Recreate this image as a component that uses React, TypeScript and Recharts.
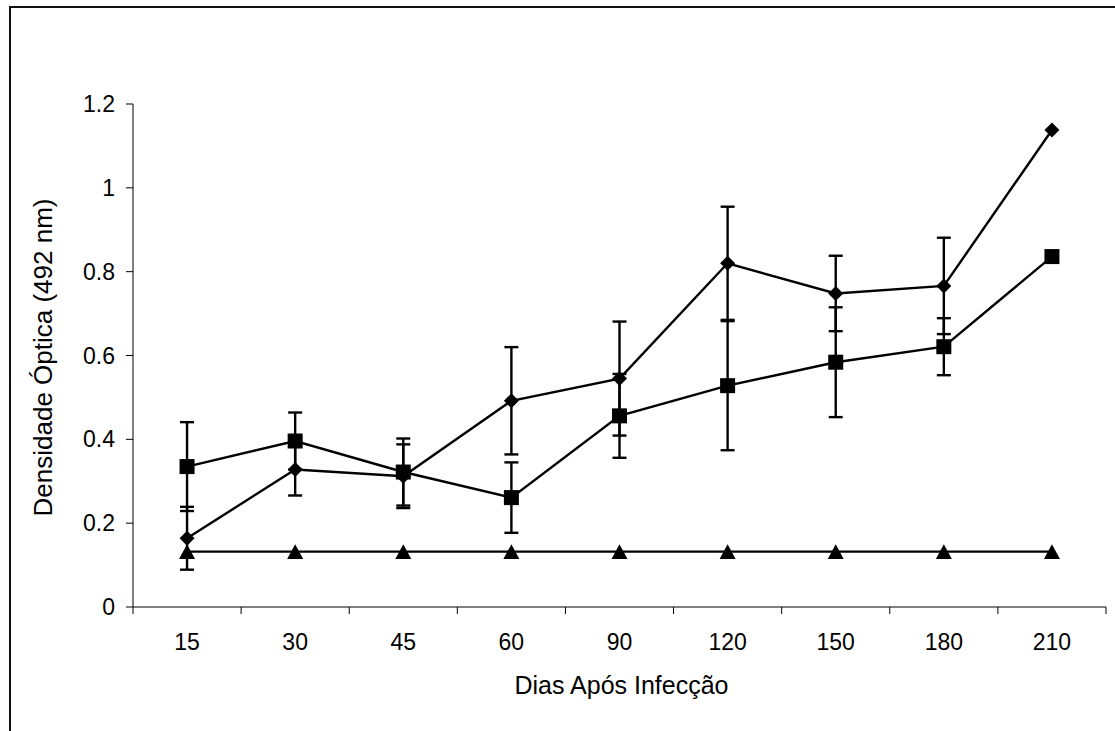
import React from 'react';
import { LineChart, Line, XAxis, YAxis, ErrorBar, Label } from 'recharts';

// Days after infection (categories on the x axis)
const days = ['15', '30', '45', '60', '90', '120', '150', '180', '210'];

// Optical density, group marked with diamonds, and its error bars
const groupDiamond = [0.164, 0.328, 0.312, 0.492, 0.545, 0.82, 0.748, 0.766, 1.138];
const groupDiamondErr = [0.075, 0.062, 0.076, 0.128, 0.136, 0.135, 0.09, 0.115, 0];

// Optical density, group marked with squares, and its error bars
const groupSquare = [0.335, 0.396, 0.322, 0.261, 0.456, 0.528, 0.584, 0.621, 0.836];
const groupSquareErr = [0.106, 0.068, 0.08, 0.084, 0.1, 0.154, 0.131, 0.068, 0];

// Control group (triangles)
const groupControl = [0.132, 0.132, 0.132, 0.132, 0.132, 0.132, 0.132, 0.132, 0.132];

const yTicks = [0, 0.2, 0.4, 0.6, 0.8, 1, 1.2];

const FONT = '"Liberation Sans", Arial, Helvetica, sans-serif';
const TICK_LEN = 7;
const X_TICK_GAP = 20;
const SERIES_WIDTH = 2.4;

// each category sits in the middle of its band; band edges carry the tick marks
const data = days.map((d, i) => ({
  pos: i + 0.5,
  day: d,
  diamond: groupDiamond[i],
  diamondErr: groupDiamondErr[i],
  square: groupSquare[i],
  squareErr: groupSquareErr[i],
  control: groupControl[i],
}));

const xTicks: number[] = [];
days.forEach((_, i) => {
  xTicks.push(i, i + 0.5);
});
xTicks.push(days.length);

const XTick = (props: any) => {
  const { x, y, payload } = props;
  const v = payload.value as number;
  if (Number.isInteger(v)) {
    const y0 = y - TICK_LEN - X_TICK_GAP;
    return <line x1={x} x2={x} y1={y0} y2={y0 + TICK_LEN} stroke="#000" strokeWidth={1} />;
  }
  return (
    <text x={x} y={y} dy="0.71em" textAnchor="middle" fontSize={23} fontFamily={FONT} fill="#000">
      {days[Math.floor(v)]}
    </text>
  );
};

const DiamondDot = (p: any) => {
  const { cx, cy } = p;
  const r = 7.5;
  return (
    <polygon
      points={`${cx},${cy - r} ${cx + r},${cy} ${cx},${cy + r} ${cx - r},${cy}`}
      fill="#000"
    />
  );
};

const SquareDot = (p: any) => {
  const { cx, cy } = p;
  return <rect x={cx - 7.5} y={cy - 7.5} width={15} height={15} fill="#000" />;
};

const TriangleDot = (p: any) => {
  const { cx, cy } = p;
  return (
    <polygon
      points={`${cx},${cy - 7.5} ${cx + 8},${cy + 7.3} ${cx - 8},${cy + 7.3}`}
      fill="#000"
    />
  );
};

const YTitle = (props: any) => {
  const vb = props.viewBox || { x: 0, y: 104, width: 133, height: 503 };
  const cx = 42.5;
  const cy = vb.y + vb.height / 2 + 2;
  return (
    <text
      x={cx}
      y={cy}
      transform={`rotate(-90 ${cx} ${cy})`}
      textAnchor="middle"
      dominantBaseline="central"
      fontSize={26}
      fontFamily={FONT}
      fill="#000"
    >
      Densidade Óptica (492 nm)
    </text>
  );
};

const XTitle = (props: any) => {
  const vb = props.viewBox || { x: 133, y: 607, width: 973, height: 124 };
  return (
    <text
      x={vb.x + vb.width / 2 + 2}
      y={vb.y + 87}
      textAnchor="middle"
      fontSize={25}
      fontFamily={FONT}
      fill="#000"
    >
      Dias Após Infecção
    </text>
  );
};

export default function App() {
  return (
    <div
      style={{
        position: 'absolute',
        left: 0,
        top: 0,
        width: 1115,
        height: 731,
        overflow: 'hidden',
        background: '#fff',
        fontFamily: FONT,
      }}
    >
      <div
        style={{
          position: 'absolute',
          left: 9,
          top: 6,
          width: 1200,
          height: 800,
          borderLeft: '2px solid #111',
          borderTop: '2px solid #111',
        }}
      />
      <div style={{ position: 'absolute', left: 0, top: 0 }}>
        <LineChart
          width={1115}
          height={731}
          data={data}
          margin={{ top: 104, right: 9, bottom: 0, left: 0 }}
          style={{ fontFamily: FONT }}
        >
          <XAxis
            dataKey="pos"
            type="number"
            domain={[0, days.length]}
            ticks={xTicks}
            interval={0}
            height={124}
            tickLine={false}
            tickSize={TICK_LEN}
            tickMargin={X_TICK_GAP}
            axisLine={{ stroke: '#000', strokeWidth: 1 }}
            tick={<XTick />}
            allowDataOverflow
          >
            <Label content={<XTitle />} />
          </XAxis>
          <YAxis
            type="number"
            domain={[0, 1.2]}
            ticks={yTicks}
            interval={0}
            width={133}
            tickSize={TICK_LEN}
            tickMargin={11}
            axisLine={{ stroke: '#000', strokeWidth: 1 }}
            tickLine={{ stroke: '#000', strokeWidth: 1 }}
            tick={{ fontSize: 23, fill: '#000', fontFamily: FONT }}
            allowDataOverflow
          >
            <Label content={<YTitle />} />
          </YAxis>
          <Line
            dataKey="diamond"
            type="linear"
            stroke="#000"
            strokeWidth={SERIES_WIDTH}
            dot={(p: any) => <DiamondDot key={`d-${p.index}`} {...p} />}
            activeDot={false}
            isAnimationActive={false}
          >
            <ErrorBar dataKey="diamondErr" direction="y" width={7} strokeWidth={SERIES_WIDTH} stroke="#000" isAnimationActive={false} />
          </Line>
          <Line
            dataKey="square"
            type="linear"
            stroke="#000"
            strokeWidth={SERIES_WIDTH}
            dot={(p: any) => <SquareDot key={`s-${p.index}`} {...p} />}
            activeDot={false}
            isAnimationActive={false}
          >
            <ErrorBar dataKey="squareErr" direction="y" width={7} strokeWidth={SERIES_WIDTH} stroke="#000" isAnimationActive={false} />
          </Line>
          <Line
            dataKey="control"
            type="linear"
            stroke="#000"
            strokeWidth={SERIES_WIDTH}
            dot={(p: any) => <TriangleDot key={`t-${p.index}`} {...p} />}
            activeDot={false}
            isAnimationActive={false}
          />
        </LineChart>
      </div>
    </div>
  );
}
